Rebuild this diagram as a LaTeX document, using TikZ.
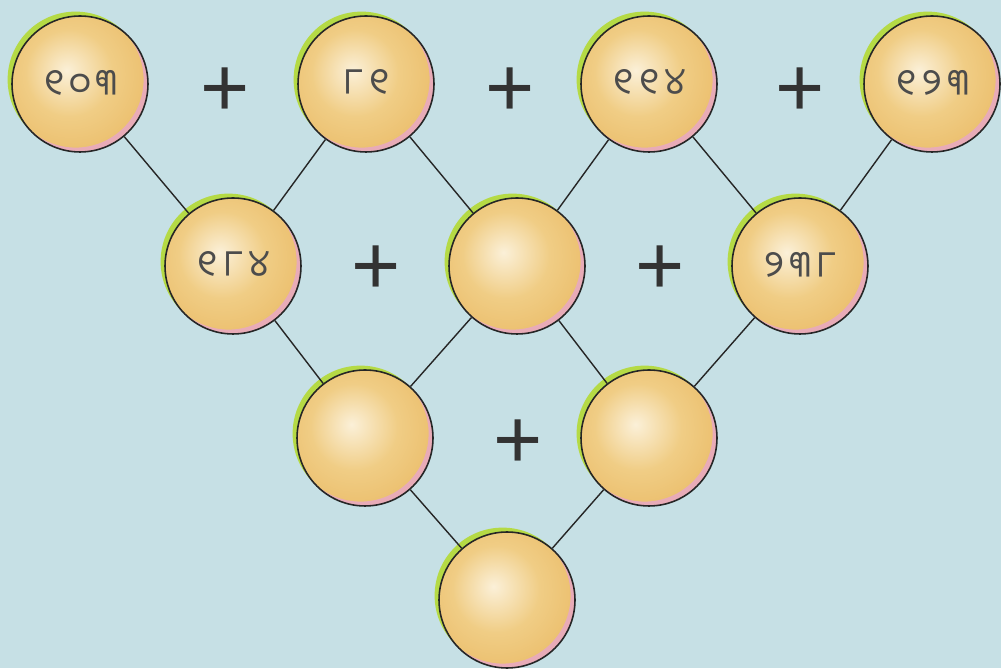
\documentclass[tikz,border=0pt]{standalone}
\usepackage{fontspec}
\newfontfamily\odia[Script=Oriya, LetterSpace=14]{Noto Sans Oriya UI}
\newfontfamily\plusfont{Liberation Sans}
\usetikzlibrary{positioning}
\definecolor{sky}{HTML}{C6E0E5}
\definecolor{leaf}{HTML}{B5DA45}
\definecolor{ballhi}{HTML}{FBF0D8}
\definecolor{ballmid}{HTML}{F0CD85}
\definecolor{ballrim}{HTML}{E9B862}
\definecolor{ballpink}{HTML}{E8A8C4}
\pgfdeclareradialshading{sphere}{\pgfpoint{-5bp}{5bp}}{color(0bp)=(ballhi); color(16bp)=(ballmid); color(36bp)=(ballrim); color(80bp)=(ballrim)}

\begin{document}
\begin{tikzpicture}[
  x=0.02cm, y=-0.02cm,
  bubble/.style={circle, draw=black!85, line width=0.9pt, minimum size=2.72cm,
                 inner sep=0pt, shading=sphere,
                 preaction={fill=leaf, transform canvas={shift={(-2.5pt,2.5pt)}}},
                 path picture={\fill[ballpink, even odd rule, opacity=0.85]
                   ([shift={(-5pt,-5pt)}]path picture bounding box.south west) rectangle
                   ([shift={(5pt,5pt)}]path picture bounding box.north east)
                   ([shift={(-2.5pt,2.5pt)}]path picture bounding box.center) circle[radius=1.36cm];},
                 font=\odia\fontsize{21}{24}\selectfont, text=black!70},
  plus/.style={font=\plusfont\fontsize{48}{48}\selectfont, text=black!80},
  link/.style={draw=black!85, line width=0.8pt}
]
\fill[sky] (0,0) rectangle (1001,668);
\node[bubble] (t1) at (80,84) {୧୦୩};
\node[bubble] (t2) at (366,84) {୮୧};
\node[bubble] (t3) at (649,84) {୧୧୪};
\node[bubble] (t4) at (932,84) {୧୨୩};
\node[bubble] (m1) at (233,266) {୧୮୪};
\node[bubble] (m2) at (517,266) {};
\node[bubble] (m3) at (800,266) {୨୩୮};
\node[bubble] (b1) at (365,438) {};
\node[bubble] (b2) at (649,438) {};
\node[bubble] (r) at (507,600) {};
% plus signs between the balls
\node[plus] (p1) at (225,92) {+};
\node[plus] (p2) at (510,92) {+};
\node[plus] (p3) at (800,92) {+};
\node[plus] (p4) at (376,270) {+};
\node[plus] (p5) at (660,270) {+};
\node[plus] (p6) at (518,444) {+};
\foreach \a/\b in {t1/m1, t2/m1, t2/m2, t3/m2, t3/m3, t4/m3, m1/b1, m2/b1, m2/b2, m3/b2, b1/r, b2/r}
  \draw[link] (\a) -- (\b);
\end{tikzpicture}
\end{document}
